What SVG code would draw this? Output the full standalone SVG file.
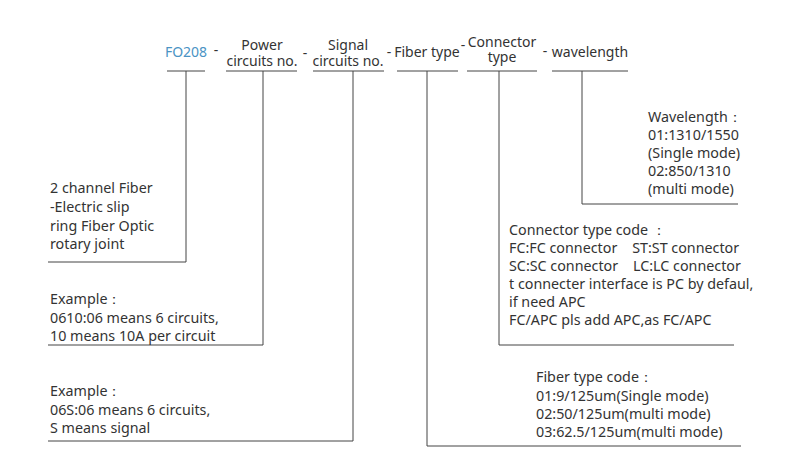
<svg xmlns="http://www.w3.org/2000/svg" width="800" height="475" viewBox="0 0 800 475">
<style>
text{font-family:"Noto Sans","Open Sans","Liberation Sans",sans-serif;fill:#333}
.h{font-size:14px}
.t{font-size:14.3px}
.c{fill:#4a93c4}
.ln{stroke:#444;stroke-width:1;fill:none}
</style>
<rect width="800" height="475" fill="#fff"/>
<g id="header">
<g id="h-fo208"><text class="h c" x="186" y="57" text-anchor="middle">FO208</text><line class="ln" x1="167" y1="71" x2="205" y2="71"/></g>
<text class="h" x="216" y="55" text-anchor="middle">-</text>
<g id="h-power"><text class="h" text-anchor="middle"><tspan x="262" y="50">Power</tspan><tspan x="262" y="66">circuits no.</tspan></text><line class="ln" x1="226" y1="71" x2="297" y2="71"/></g>
<text class="h" x="305" y="58" text-anchor="middle">-</text>
<g id="h-signal"><text class="h" text-anchor="middle"><tspan x="348" y="50">Signal</tspan><tspan x="348" y="66">circuits no.</tspan></text><line class="ln" x1="313" y1="71" x2="384" y2="71"/></g>
<text class="h" x="389" y="57" text-anchor="middle">-</text>
<g id="h-fiber"><text class="h" x="427" y="57" text-anchor="middle">Fiber type</text><line class="ln" x1="397" y1="71" x2="458" y2="71"/></g>
<text class="h" x="463" y="50" text-anchor="middle">-</text>
<g id="h-connector"><text class="h" text-anchor="middle"><tspan x="502" y="47">Connector</tspan><tspan x="502" y="62">type</tspan></text><line class="ln" x1="467" y1="71" x2="537" y2="71"/></g>
<text class="h" x="545" y="56" text-anchor="middle">-</text>
<g id="h-wavelength"><text class="h" x="590" y="57" text-anchor="middle">wavelength</text><line class="ln" x1="552" y1="71" x2="628" y2="71"/></g>
</g>
<g id="connectors">
<polyline class="ln" points="186,71 186,262 48,262"/>
<polyline class="ln" points="263,71 263,345 48,345"/>
<polyline class="ln" points="353,71 353,441 48,441"/>
<polyline class="ln" points="427,71 427,446 741,446"/>
<polyline class="ln" points="499,71 499,345 734,345"/>
<polyline class="ln" points="582,71 582,204 738,204"/>
</g>
<g id="n-product">
<text class="t" x="50" y="193">2 channel Fiber</text>
<text class="t" x="50" y="212">-Electric slip</text>
<text class="t" x="50" y="231">ring Fiber Optic</text>
<text class="t" x="50" y="249">rotary joint</text>
</g>
<g id="n-power">
<text class="t" x="50" y="304">Example：</text>
<text class="t" x="50" y="323">0610:06 means 6 circuits,</text>
<text class="t" x="50" y="341">10 means 10A per circuit</text>
</g>
<g id="n-signal">
<text class="t" x="50" y="396">Example：</text>
<text class="t" x="50" y="415">06S:06 means 6 circuits,</text>
<text class="t" x="50" y="433">S means signal</text>
</g>
<g id="n-fiber">
<text class="t" x="536" y="382">Fiber type code：</text>
<text class="t" x="536" y="401">01:9/125um(Single mode)</text>
<text class="t" x="536" y="419">02:50/125um(multi mode)</text>
<text class="t" x="536" y="437">03:62.5/125um(multi mode)</text>
</g>
<g id="n-connector">
<text class="t" x="509" y="235">Connector type code ：</text>
<text class="t" x="509" y="253" xml:space="preserve">FC:FC connector    ST:ST connector</text>
<text class="t" x="509" y="271" xml:space="preserve">SC:SC connector    LC:LC connector</text>
<text class="t" x="509" y="289">t connecter interface is PC by defaul,</text>
<text class="t" x="509" y="307">if need APC</text>
<text class="t" x="509" y="325">FC/APC pls add APC,as FC/APC</text>
</g>
<g id="n-wavelength">
<text class="t" x="648" y="122">Wavelength：</text>
<text class="t" x="648" y="140">01:1310/1550</text>
<text class="t" x="648" y="158">(Single mode)</text>
<text class="t" x="648" y="176">02:850/1310</text>
<text class="t" x="648" y="194">(multi mode)</text>
</g>
</svg>
